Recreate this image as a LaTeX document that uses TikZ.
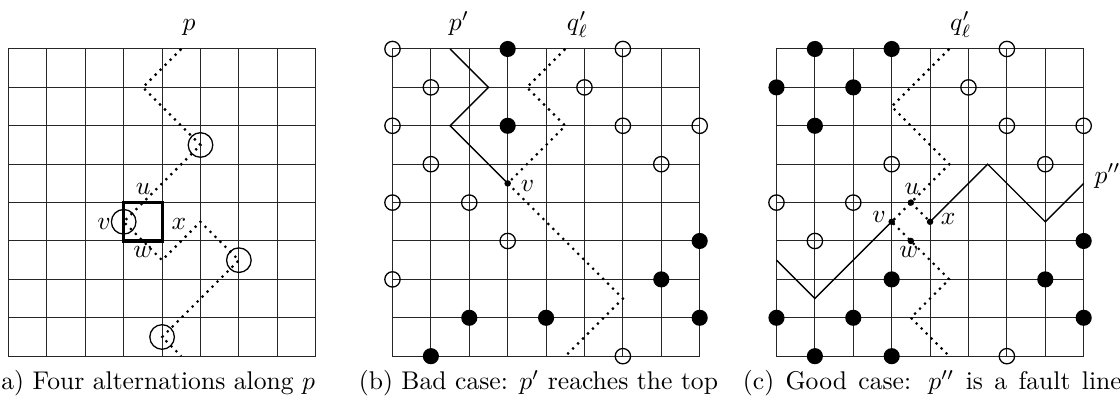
\documentclass[tikz,border=0pt]{standalone}
\begin{document}
\begin{tikzpicture}[x=15pt,y=15pt,
  gridline/.style={line width=0.4pt,black!85},
  dotpath/.style={line width=0.85pt,dash pattern=on 0.85pt off 1.9pt},
  solidpath/.style={line width=0.55pt},
  bigring/.style={line width=0.5pt},
  openring/.style={line width=0.5pt},
  fulldot/.style={fill=black},
  tinydot/.style={fill=black},
  lab/.style={inner sep=0pt,anchor=base},
  captext/.style={inner sep=0pt,anchor=base}]
\useasboundingbox (-0.221,-1.115) rectangle (28.946,9.276);
% grids
\foreach \ox in {0,10,20}{
  \foreach \i in {0,...,8}{
    \draw[gridline] (\ox+\i,0) -- (\ox+\i,8);
    \draw[gridline] (\ox,\i) -- (\ox+8,\i);
  }
}
% ---------------- panel (a)
\draw[line width=1.2pt] (3,3) rectangle (4,4);
\draw[dotpath] (4.5,8) -- (3.5,7) -- (5,5.5) -- (3,3.5) -- (4,2.5) -- (5,3.5) -- (6,2.5) -- (4,0.5) -- (4.5,0);
\foreach \p in {(5,5.5),(3,3.5),(6,2.5),(4,0.5)}
  \draw[bigring] \p circle (0.32);
\node[lab] (pa) at (4.7,8.48) {$p$};
\node[lab] (ua) at (3.51,4.2) {$u$};
\node[lab] (va) at (2.49,3.29) {$v$};
\node[lab] (xa) at (4.44,3.29) {$x$};
\node[lab] (wa) at (3.5,2.56) {$w$};
% ---------------- panel (b)
\coordinate (vb) at (13,4.5);
\draw[dotpath] (14.5,8) -- (13.5,7) -- (14.5,6) -- (vb) -- (16,1.5) -- (14.5,0);
\draw[solidpath] (11.5,8) -- (12.5,7) -- (11.5,6) -- (vb);
\foreach \p in {(0,8),(6,8),(1,7),(5,7),(0,6),(6,6),(8,6),(1,5),(7,5),(0,4),(2,4),(3,3),(0,2),(6,0)}
  \draw[openring,shift={(10,0)}] \p circle (0.2);
\foreach \p in {(3,8),(3,6),(8,3),(7,2),(2,1),(4,1),(8,1),(1,0)}
  \fill[fulldot,shift={(10,0)}] \p circle (0.21);
\fill[tinydot] (vb) circle (0.085);
\node[lab] (pb) at (11.73,8.48) {$p'$};
\node[lab] (qb) at (14.82,8.48) {$q'_\ell$};
\node[lab] (vbl) at (13.52,4.28) {$v$};
% ---------------- panel (c)
\coordinate (uc) at (23.5,4);
\coordinate (vc) at (23,3.5);
\coordinate (wc) at (23.5,3);
\coordinate (xc) at (24,3.5);
\draw[dotpath] (24.5,8) -- (23,6.5) -- (24.5,5) -- (uc) -- (vc) -- (wc) -- (24.5,2) -- (23.5,1) -- (24.5,0);
\draw[dotpath] (uc) -- (xc);
\draw[solidpath] (20,2.5) -- (21,1.5) -- (vc);
\draw[solidpath] (xc) -- (25.5,5) -- (27,3.5) -- (28,4.5);
\foreach \p in {(6,8),(5,7),(6,6),(8,6),(3,5),(7,5),(0,4),(2,4),(1,3),(6,0)}
  \draw[openring,shift={(20,0)}] \p circle (0.2);
\foreach \p in {(1,8),(3,8),(0,7),(2,7),(1,6),(3,2),(7,2),(8,3),(0,1),(2,1),(8,1),(1,0),(3,0)}
  \fill[fulldot,shift={(20,0)}] \p circle (0.21);
\foreach \c in {uc,vc,wc,xc}
  \fill[tinydot] (\c) circle (0.085);
\node[lab] (qc) at (24.8,8.48) {$q'_\ell$};
\node[lab,anchor=base west] (pc) at (28.27,4.51) {$p''$};
\node[lab] (ucl) at (23.53,4.2) {$u$};
\node[lab] (vcl) at (22.67,3.48) {$v$};
\node[lab] (xcl) at (24.47,3.42) {$x$};
\node[lab] (wcl) at (23.45,2.56) {$w$};
% captions
\node[captext] (capa) at (3.77,-0.88) {(a) Four alternations along $p$};
\node[captext] (capb) at (13.8,-0.88) {(b) Bad case: $p'$ reaches the top};
\node[captext] (capc) at (24.06,-0.88) {\makebox[148pt][s]{(c) Good case: $p''$ is a fault line}};
\end{tikzpicture}
\end{document}
